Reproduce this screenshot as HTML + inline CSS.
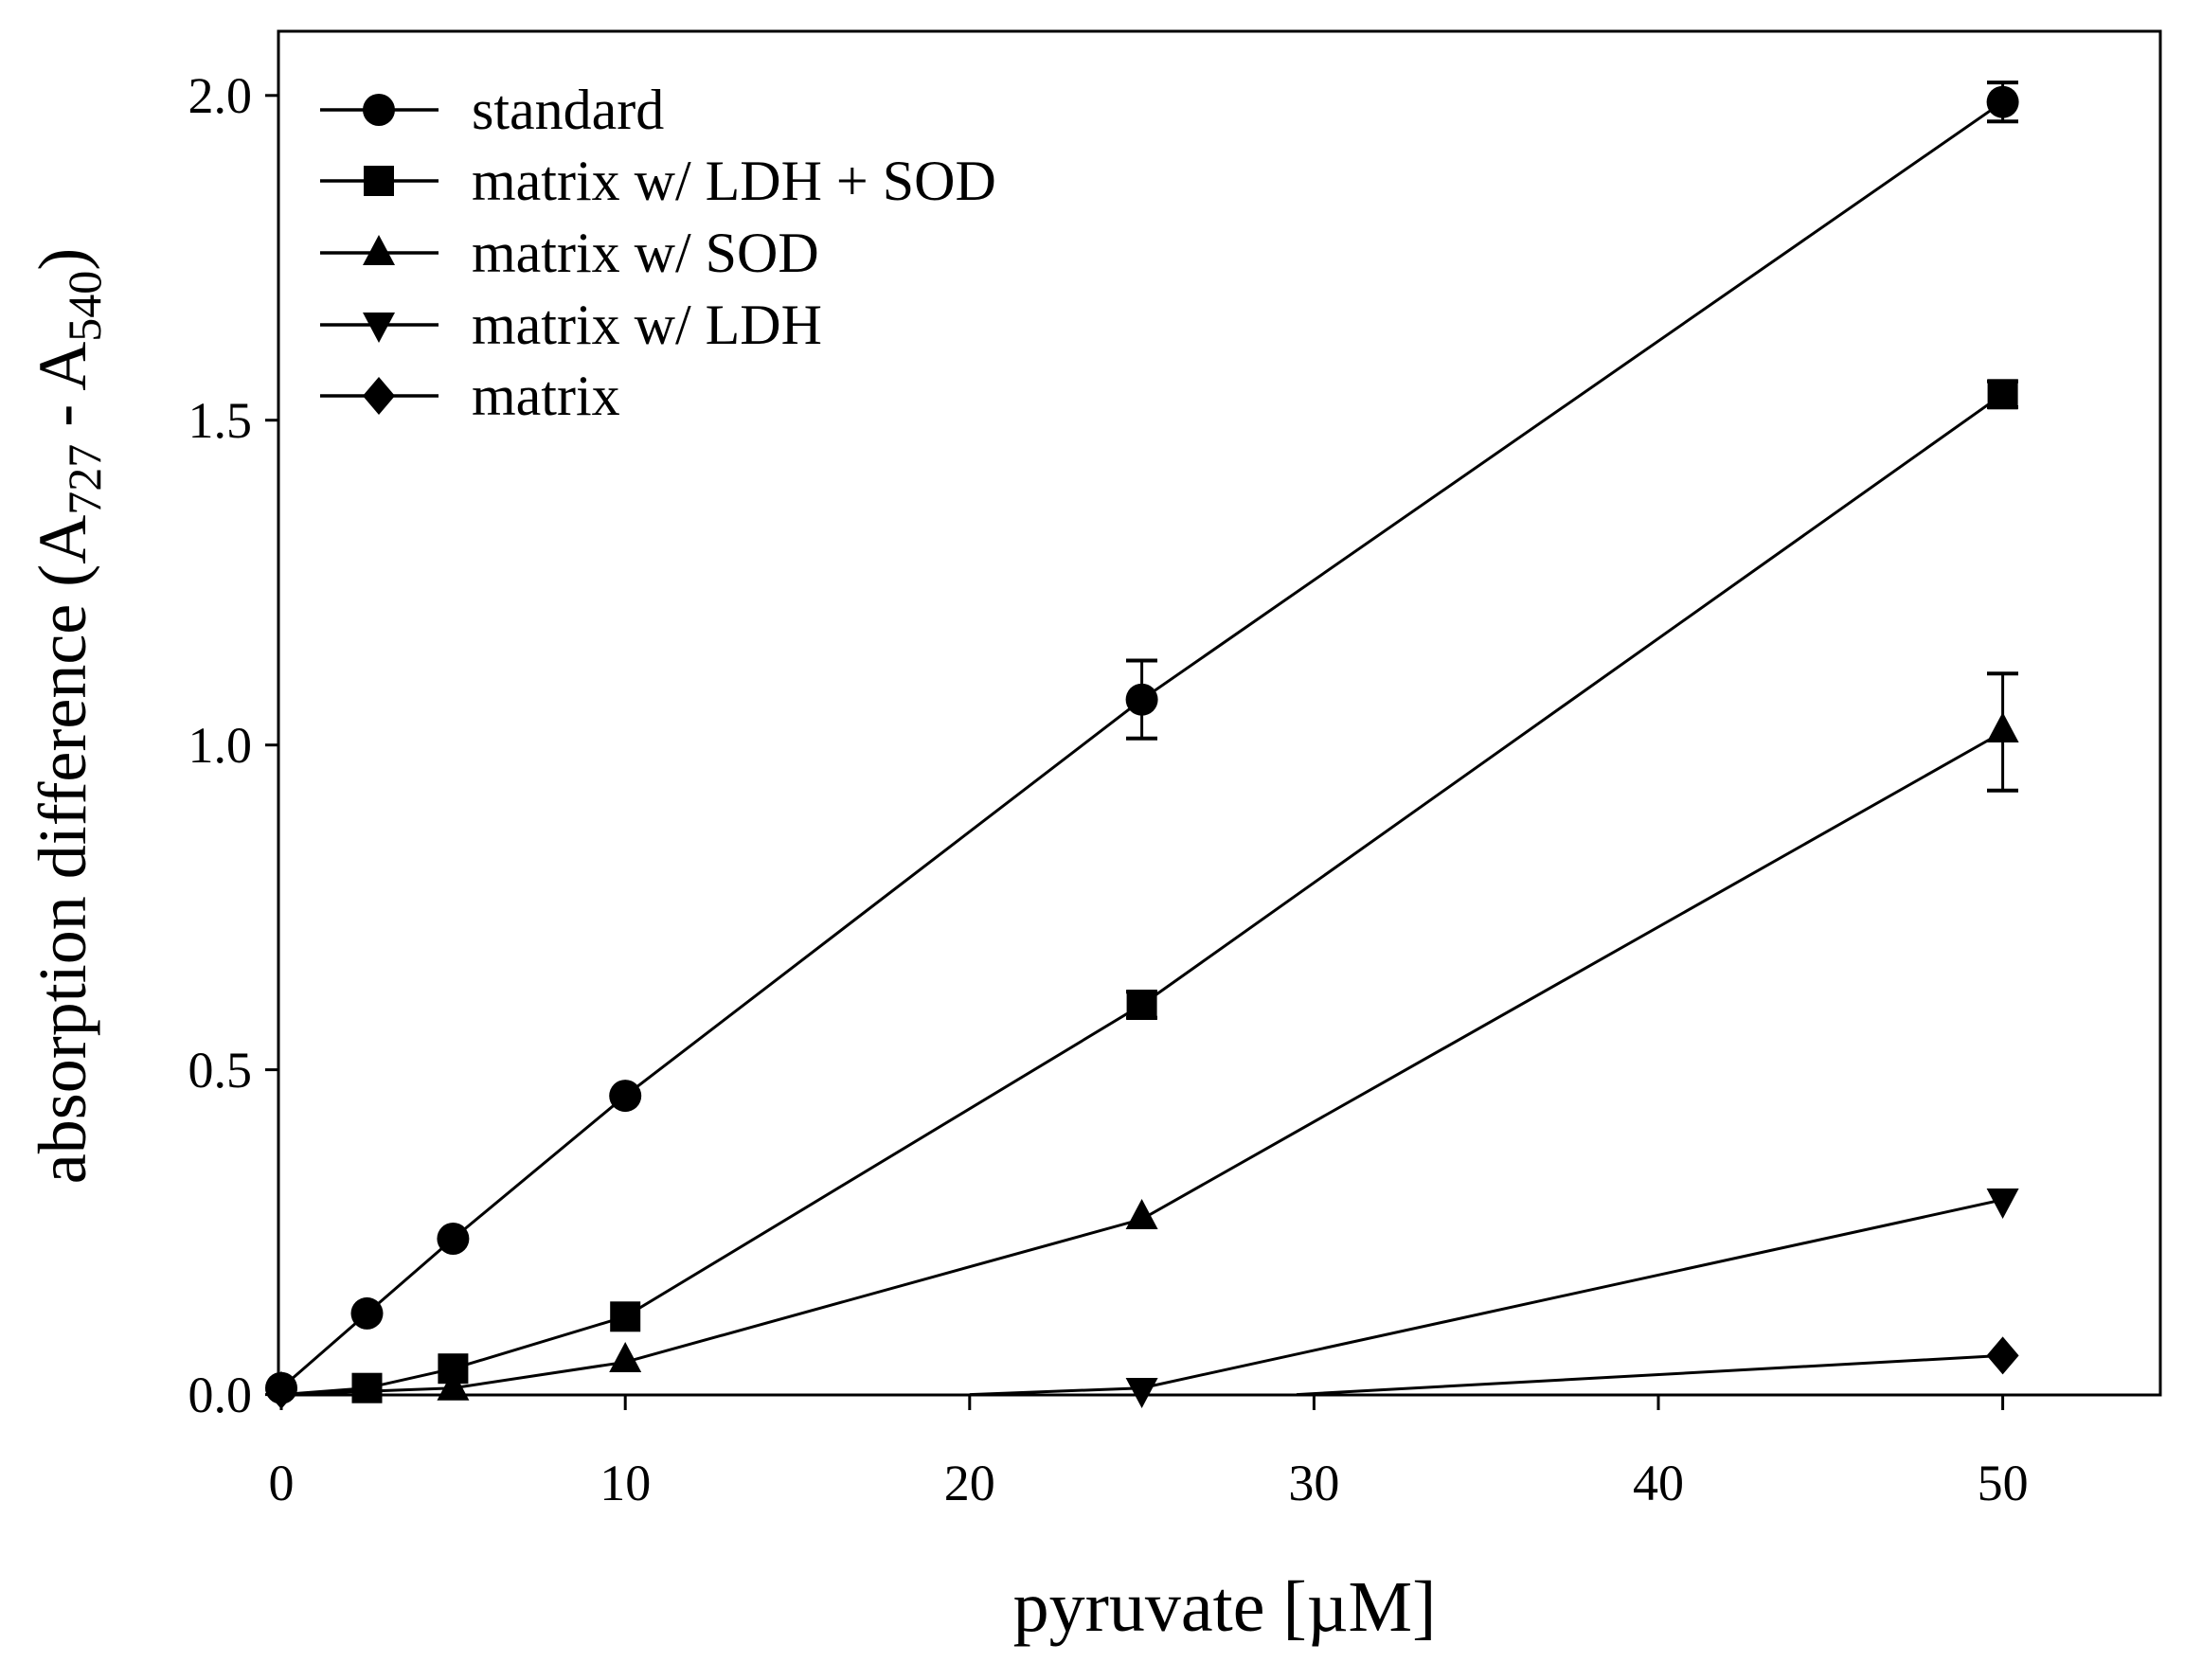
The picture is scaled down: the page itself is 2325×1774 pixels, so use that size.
<!DOCTYPE html>
<html><head><meta charset="utf-8"><style>html,body{margin:0;padding:0;background:#fff}svg{display:block}</style></head>
<body>
<svg width="2325" height="1774" viewBox="0 0 2325 1774" xmlns="http://www.w3.org/2000/svg" font-family="Liberation Serif, serif">
<defs>
<g id="c"><circle r="17" fill="#000"/></g>
<g id="s"><rect x="-16" y="-16" width="32" height="32" fill="#000"/></g>
<g id="t"><polygon points="0,-19 17,13 -17,13" fill="#000"/></g>
<g id="v"><polygon points="0,19 17,-13 -17,-13" fill="#000"/></g>
<g id="d"><polygon points="0,-20 17,0 0,20 -17,0" fill="#000"/></g>
</defs>
<rect x="0" y="0" width="2325" height="1774" fill="#fff"/>
<rect x="294" y="33" width="1987" height="1440" fill="none" stroke="#000" stroke-width="3"/>
<g stroke="#000" stroke-width="3">
<line x1="280" y1="1472.6" x2="294" y2="1472.6"/>
<line x1="280" y1="1129.6" x2="294" y2="1129.6"/>
<line x1="280" y1="786.7" x2="294" y2="786.7"/>
<line x1="280" y1="443.7" x2="294" y2="443.7"/>
<line x1="280" y1="100.8" x2="294" y2="100.8"/>
<line x1="297" y1="1473" x2="297" y2="1489"/>
<line x1="660.2" y1="1473" x2="660.2" y2="1489"/>
<line x1="1023.8" y1="1473" x2="1023.8" y2="1489"/>
<line x1="1387.4" y1="1473" x2="1387.4" y2="1489"/>
<line x1="1751" y1="1473" x2="1751" y2="1489"/>
<line x1="2114.6" y1="1473" x2="2114.6" y2="1489"/>
</g>
<g font-size="54" fill="#000" text-anchor="end">
<text x="266" y="1491">0.0</text>
<text x="266" y="1148">0.5</text>
<text x="266" y="805">1.0</text>
<text x="266" y="462">1.5</text>
<text x="266" y="119">2.0</text>
</g>
<g font-size="54" fill="#000" text-anchor="middle">
<text x="297" y="1584">0</text>
<text x="660.2" y="1584">10</text>
<text x="1023.8" y="1584">20</text>
<text x="1387.4" y="1584">30</text>
<text x="1751" y="1584">40</text>
<text x="2114.6" y="1584">50</text>
</g>
<text x="1293" y="1722" font-size="76" text-anchor="middle">pyruvate [µM]</text>
<text transform="translate(90,756) rotate(-90)" font-size="72" text-anchor="middle">absorption difference (A<tspan font-size="50" dy="16">727</tspan><tspan dy="-16"> - A</tspan><tspan font-size="50" dy="16">540</tspan><tspan dy="-16">)</tspan></text>
<g fill="none" stroke="#000" stroke-width="3">
<polyline points="297,1465.7 387.5,1386.9 478.4,1308 660.2,1157.1 1205.6,738.7 2114.6,107.7"/>
<polyline points="297,1472.6 387.5,1465.7 478.4,1445.2 660.2,1390.3 1205.6,1061 2114.6,416.3"/>
<polyline points="297,1472.6 478.4,1465.7 660.2,1438.3 1205.6,1287.4 2114.6,773"/>
<polyline points="1023.8,1472.6 1205.6,1465.7 2114.6,1266.8"/>
<polyline points="1369,1472.6 2114.6,1431.4"/>
</g>
<g stroke="#000" stroke-width="3">
<line x1="1205.6" y1="697.5" x2="1205.6" y2="779.8"/><line x1="1189" y1="697.5" x2="1222" y2="697.5" stroke-width="4"/><line x1="1189" y1="779.8" x2="1222" y2="779.8" stroke-width="4"/>
<line x1="2114.6" y1="87.1" x2="2114.6" y2="128.2"/><line x1="2098" y1="87.1" x2="2131" y2="87.1" stroke-width="4"/><line x1="2098" y1="128.2" x2="2131" y2="128.2" stroke-width="4"/>
<line x1="1189" y1="1047.3" x2="1222" y2="1047.3" stroke-width="4"/><line x1="1189" y1="1074.8" x2="1222" y2="1074.8" stroke-width="4"/>
<line x1="2098" y1="402.6" x2="2131" y2="402.6" stroke-width="4"/><line x1="2098" y1="430" x2="2131" y2="430" stroke-width="4"/>
<line x1="2114.6" y1="711.3" x2="2114.6" y2="834.7"/><line x1="2098" y1="711.3" x2="2131" y2="711.3" stroke-width="4"/><line x1="2098" y1="834.7" x2="2131" y2="834.7" stroke-width="4"/>
</g>
<use href="#c" x="297" y="1465.7"/><use href="#c" x="387.5" y="1386.9"/><use href="#c" x="478.4" y="1308"/><use href="#c" x="660.2" y="1157.1"/><use href="#c" x="1205.6" y="738.7"/><use href="#c" x="2114.6" y="107.7"/>
<use href="#s" x="387.5" y="1465.7"/><use href="#s" x="478.4" y="1445.2"/><use href="#s" x="660.2" y="1390.3"/><use href="#s" x="1205.6" y="1061"/><use href="#s" x="2114.6" y="416.3"/>
<use href="#t" x="478.4" y="1465.7"/><use href="#t" x="660.2" y="1436"/><use href="#t" x="1205.6" y="1285"/><use href="#t" x="2114.6" y="771"/>
<use href="#v" x="1205.6" y="1468"/><use href="#v" x="2114.6" y="1268"/>
<use href="#d" x="297" y="1468"/><use href="#d" x="2114.6" y="1431.4"/>
<g stroke="#000" stroke-width="3.5">
<line x1="338" y1="116" x2="463" y2="116"/>
<line x1="338" y1="191" x2="463" y2="191"/>
<line x1="338" y1="267" x2="463" y2="267"/>
<line x1="338" y1="343" x2="463" y2="343"/>
<line x1="338" y1="418" x2="463" y2="418"/>
</g>
<use href="#c" x="400" y="116"/><use href="#s" x="400" y="191"/><use href="#t" x="400" y="267"/><use href="#v" x="400" y="343"/><use href="#d" x="400" y="418"/>
<g font-size="60" fill="#000">
<text x="498" y="136">standard</text>
<text x="498" y="211">matrix w/ LDH + SOD</text>
<text x="498" y="287">matrix w/ SOD</text>
<text x="498" y="363">matrix w/ LDH</text>
<text x="498" y="438">matrix</text>
</g>
</svg>
</body></html>
